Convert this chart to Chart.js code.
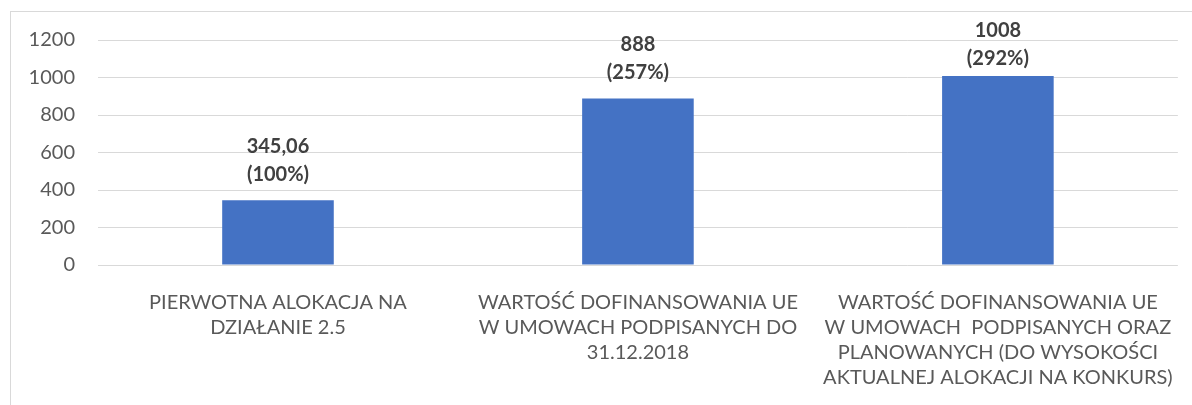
<!DOCTYPE html>
<html>
<head>
<meta charset="utf-8">
<script src="https://cdn.jsdelivr.net/npm/chart.js@4"></script>
<style>
    html, body { margin: 0; padding: 0; background: #fff; }
    #wrap { position: relative; width: 1192px; height: 405px; overflow: hidden; }
    #frame { position: absolute; left: 10px; top: 11px; width: 1300px; height: 500px;
             border-left: 1px solid #d9d9d9; border-top: 1px solid #d9d9d9; }
    canvas { position: absolute; left: 0; top: 0; }
</style>
</head>
<body>
<div id="wrap">
    <div id="frame"></div>
    <canvas id="allocationChart" width="1192" height="405"></canvas>
</div>
<script>
// Category labels (split into lines like in the original)
const categories = [
    ['PIERWOTNA ALOKACJA NA', 'DZIAŁANIE 2.5'],
    ['WARTOŚĆ DOFINANSOWANIA UE', 'W UMOWACH PODPISANYCH DO', '31.12.2018'],
    ['WARTOŚĆ DOFINANSOWANIA UE', 'W UMOWACH  PODPISANYCH ORAZ', 'PLANOWANYCH (DO WYSOKOŚCI', 'AKTUALNEJ ALOKACJI NA KONKURS)']
];
// Values (mln PLN) and share of the original allocation (%)
const values = [345.06, 888, 1008];
const shares = [100, 257, 292];
const yTicks = [0, 200, 400, 600, 800, 1000, 1200];

const fontFamily = 'Lato, "Open Sans", sans-serif';

// Simple plugin drawing the two-line value labels above each bar
const barLabels = {
    id: 'barLabels',
    afterDatasetsDraw(chart) {
        const ctx = chart.ctx;
        const meta = chart.getDatasetMeta(0);
        ctx.save();
        ctx.fillStyle = '#404040';
        ctx.font = 'bold 20px ' + fontFamily;
        ctx.textAlign = 'center';
        ctx.textBaseline = 'middle';
        meta.data.forEach((bar, i) => {
            const { x, y } = bar.getProps(['x', 'y'], true);
            // keep the label from running off the top, like Excel does
            const firstLine = Math.max(y - 54, chart.chartArea.top - 9);
            ctx.fillText(String(values[i]).replace('.', ','), x, firstLine);
            ctx.fillText('(' + shares[i] + '%)', x, firstLine + 28);
        });
        ctx.restore();
    }
};

const ctx = document.getElementById('allocationChart').getContext('2d');
new Chart(ctx, {
    type: 'bar',
    data: {
        labels: categories,
        datasets: [{
            data: values,
            backgroundColor: '#4472C4',
            borderWidth: 0,
            barPercentage: 0.62,
            categoryPercentage: 0.5
        }]
    },
    options: {
        responsive: false,
        animation: false,
        layout: { padding: { left: 10, right: 14, top: 40, bottom: 0 } },
        plugins: {
            legend: { display: false },
            tooltip: { enabled: false }
        },
        scales: {
            x: {
                grid: { display: false },
                border: { display: false },
                ticks: {
                    color: '#595959',
                    font: { family: fontFamily, size: 20, lineHeight: 1.25 },
                    padding: 17,
                    maxRotation: 0,
                    autoSkip: false
                },
                afterFit: scale => { scale.height = 140; }
            },
            y: {
                min: 0,
                max: 1200,
                afterBuildTicks: scale => { scale.ticks = yTicks.map(v => ({ value: v })); },
                grid: { color: '#d9d9d9', lineWidth: 1, drawTicks: false },
                border: { display: false },
                ticks: {
                    color: '#595959',
                    font: { family: fontFamily, size: 20 },
                    padding: 23,
                    callback: value => String(value)
                },
                afterFit: scale => { scale.width = 88; }
            }
        }
    },
    plugins: [barLabels]
});
</script>
</body>
</html>
